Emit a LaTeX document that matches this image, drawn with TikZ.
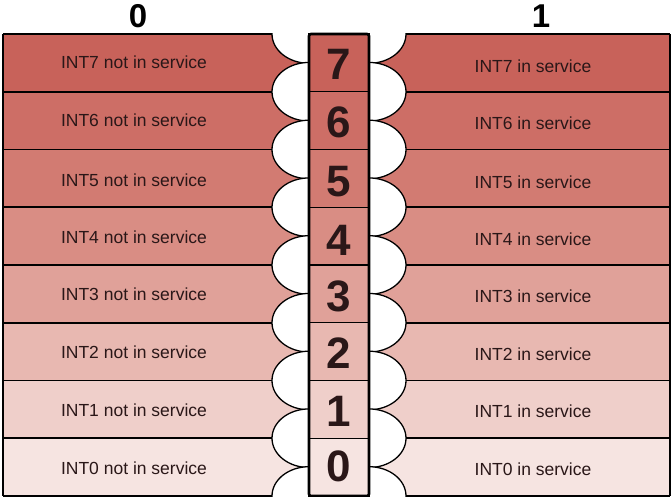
\documentclass[tikz,border=0pt]{standalone}
\usepackage{fontspec}
\setmainfont{Liberation Sans}
\usepackage{xcolor}
\definecolor{row7}{HTML}{C8625A}
\definecolor{row6}{HTML}{CD6E66}
\definecolor{row5}{HTML}{D27B72}
\definecolor{row4}{HTML}{D98D84}
\definecolor{row3}{HTML}{E0A199}
\definecolor{row2}{HTML}{E8B8B1}
\definecolor{row1}{HTML}{EFCFCA}
\definecolor{row0}{HTML}{F6E4E1}
\definecolor{ink}{HTML}{2A1718}

\begin{document}
\begin{tikzpicture}[x=1pt, y=-1pt,
    msg/.style={font=\fontsize{17.5}{20}\selectfont, color=ink},
    bit/.style={font=\fontsize{44}{46}\selectfont\bfseries, color=ink},
    head/.style={font=\fontsize{33}{36}\selectfont\bfseries, color=black},
    edge/.style={draw=black, line width=1.6pt},
    notch/.style={fill=white, draw=black, line width=1.3pt},
    cell/.style={draw=black, line width=1.4pt},
]
\useasboundingbox (0,0) rectangle (672,497);

\foreach \i in {0,...,7} {
  \pgfmathsetmacro{\ytop}{34+(7-\i)*57.75}
  \fill[row\i] (3,\ytop) rectangle (309,\ytop+57.75);
  \fill[row\i] (369,\ytop) rectangle (670,\ytop+57.75);
}
\foreach \i in {0,...,8} {
  \pgfmathsetmacro{\yy}{34+\i*57.75}
  \draw[edge] (3,\yy) -- (309,\yy);
  \draw[edge] (369,\yy) -- (670,\yy);
}
\draw[edge] (3,34) -- (3,496);
\draw[edge] (670,34) -- (670,496);

\begin{scope}
  \clip (0,34) rectangle (672,496);
  \foreach \i in {0,...,8} {
    \pgfmathsetmacro{\yy}{34+\i*57.75}
    \draw[notch] (309,\yy) ellipse [x radius=37pt, y radius=29.3pt];
    \draw[notch] (369,\yy) ellipse [x radius=37pt, y radius=29.3pt];
  }
\end{scope}

\foreach \i in {0,...,7} {
  \pgfmathsetmacro{\ytop}{34+(7-\i)*57.75}
  \draw[cell, fill=row\i] (309,\ytop) rectangle (369,\ytop+57.75);
}
\draw[line width=2.6pt, rounded corners=2pt] (309,34) rectangle (369,496);

\node[head] (zero) at (138,16) {0};
\node[head] (one) at (541,16) {1};

\node[msg] (off7) at (134,62) {INT7 not in service};
\node[msg] (off6) at (134,120) {INT6 not in service};
\node[msg] (off5) at (134,180) {INT5 not in service};
\node[msg] (off4) at (134,237) {INT4 not in service};
\node[msg] (off3) at (134,294) {INT3 not in service};
\node[msg] (off2) at (134,352) {INT2 not in service};
\node[msg] (off1) at (134,410) {INT1 not in service};
\node[msg] (off0) at (134,468) {INT0 not in service};

\node[msg] (on7) at (533,66) {INT7 in service};
\node[msg] (on6) at (533,123) {INT6 in service};
\node[msg] (on5) at (533,182) {INT5 in service};
\node[msg] (on4) at (533,239) {INT4 in service};
\node[msg] (on3) at (533,296) {INT3 in service};
\node[msg] (on2) at (533,354) {INT2 in service};
\node[msg] (on1) at (533,411) {INT1 in service};
\node[msg] (on0) at (533,469) {INT0 in service};

\node[bit] (b7) at (339,64) {7};
\node[bit] (b6) at (339,122) {6};
\node[bit] (b5) at (339,182) {5};
\node[bit] (b4) at (339,240) {4};
\node[bit] (b3) at (339,296) {3};
\node[bit] (b2) at (339,353) {2};
\node[bit] (b1) at (339,411) {1};
\node[bit] (b0) at (339,466) {0};

\end{tikzpicture}
\end{document}
